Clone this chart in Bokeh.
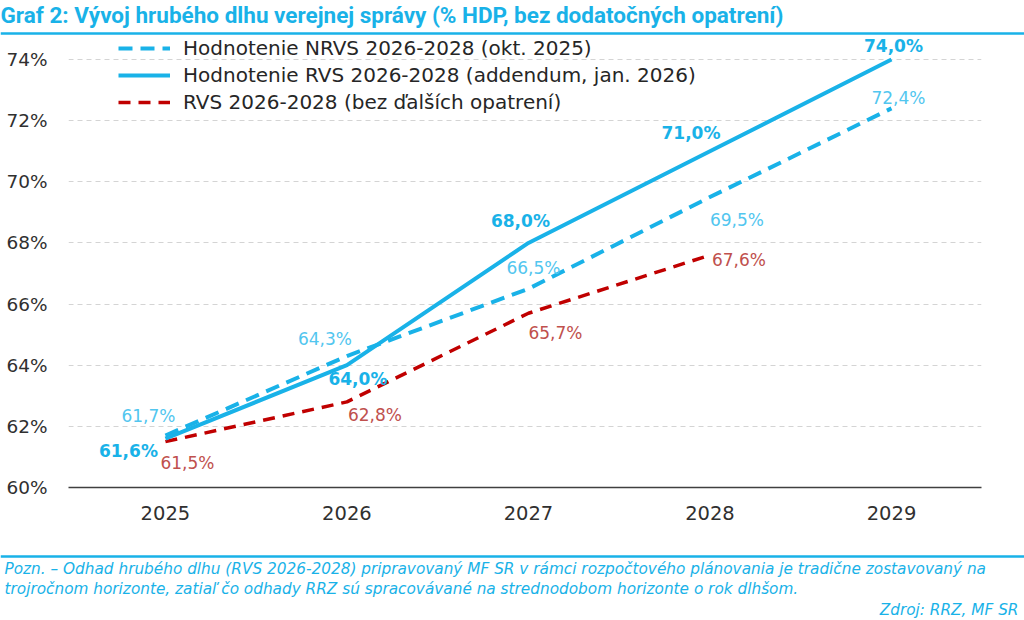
from bokeh.plotting import figure
from bokeh.layouts import column
from bokeh.models import (ColumnDataSource, Legend, LegendItem, FixedTicker, Range1d)
from bokeh.core.properties import value
from bokeh.embed import file_html
from bokeh.resources import INLINE

# ---------------- data ----------------
years = [2025, 2026, 2027, 2028, 2029]
nrvs_okt2025 = [61.7, 64.3, 66.5, 69.5, 72.4]
rvs_addendum = [61.6, 64.0, 68.0, 71.0, 74.0]
years_bez = [2025, 2026, 2027, 2028]
rvs_bez = [61.5, 62.8, 65.7, 67.6]

y_ticks = [60, 62, 64, 66, 68, 70, 72, 74]
y_tick_labels = ["60%", "62%", "64%", "66%", "68%", "70%", "72%", "74%"]
x_tick_labels = ["2025", "2026", "2027", "2028", "2029"]

series_names = [
    "Hodnotenie NRVS 2026-2028 (okt. 2025)",
    "Hodnotenie RVS 2026-2028 (addendum, jan. 2026)",
    "RVS 2026-2028 (bez ďalších opatrení)",
]
title_text = "Graf 2: Vývoj hrubého dlhu verejnej správy (% HDP, bez dodatočných opatrení)"
note_lines = [
    "Pozn. – Odhad hrubého dlhu (RVS 2026-2028) pripravovaný MF SR v rámci rozpočtového plánovania je tradične zostavovaný na",
    "trojročnom horizonte, zatiaľ čo odhady RRZ sú spracovávané na strednodobom horizonte o rok dlhšom.",
]
source_text = "Zdroj: RRZ, MF SR"

# ---------------- styles ----------------
CYAN = "#19b2e8"
CYAN_LIGHT = "#52c6ef"
RED = "#c00000"
RED_LABEL = "#c0504d"
TXT = "#303030"
FONT = "DejaVu Sans"

# label offsets (pixels, screen, +y = down)
off_nrvs = ([-17, -22, 5, 27, 7], [-20, -17, -21, 23, -10])
off_add = ([-37, 11, -8, -19, 2], [12, 14, -22, -18, -13])
off_bez = ([22, 28, 27, 29], [21, 13, 20, 5])


def fmt(v):
    return f"{v:.1f}".replace(".", ",") + "%"


W = 1024
H_HEAD, H_MAIN, H_FOOT = 35, 502, 83
ML, MR, MB = 68, 43, 50
frame_h = H_MAIN - MB


def blank(h):
    f = figure(width=W, height=h, output_backend="svg", toolbar_location=None,
               x_range=Range1d(0, W), y_range=Range1d(h, 0),
               x_axis_type=None, y_axis_type=None,
               min_border_left=0, min_border_right=0,
               min_border_top=0, min_border_bottom=0,
               background_fill_color="white", border_fill_color="white")
    f.outline_line_color = None
    f.xgrid.visible = False
    f.ygrid.visible = False
    f.frame_align = False
    return f


# ---------------- header ----------------
head = blank(H_HEAD)
head.text(x=[0], y=[14], text=[title_text], text_font=value("Roboto"),
          text_font_style="bold", text_font_size="22.5px", text_color=CYAN,
          text_baseline="middle", text_align="left")
head.line(x=[0, W], y=[33, 33], line_color=CYAN, line_width=2.5)

# ---------------- main chart ----------------
p = figure(width=W, height=H_MAIN, output_backend="svg", toolbar_location=None,
           min_border_left=ML, min_border_right=MR,
           min_border_top=0, min_border_bottom=MB,
           x_range=Range1d(2024.466, 2029.496), y_range=Range1d(60, 74.785),
           background_fill_color="white", border_fill_color="white")
p.outline_line_color = None
p.frame_align = False

p.xaxis.ticker = FixedTicker(ticks=years)
p.xaxis.major_label_overrides = {y: s for y, s in zip(years, x_tick_labels)}
p.xaxis.major_tick_line_color = None
p.xaxis.major_tick_out = 0
p.xaxis.major_tick_in = 0
p.xaxis.minor_tick_line_color = None
p.xaxis.axis_line_color = "#404040"
p.xaxis.axis_line_width = 1.6
p.xaxis.major_label_standoff = 18
p.xaxis.major_label_text_font = FONT
p.xaxis.major_label_text_font_size = "19.5px"
p.xaxis.major_label_text_color = TXT

p.yaxis.ticker = FixedTicker(ticks=y_ticks)
p.yaxis.major_label_overrides = {t: s for t, s in zip(y_ticks, y_tick_labels)}
p.yaxis.axis_line_color = None
p.yaxis.major_tick_line_color = None
p.yaxis.major_tick_out = 0
p.yaxis.major_tick_in = 0
p.yaxis.minor_tick_line_color = None
p.yaxis.major_label_standoff = 21
p.yaxis.major_label_text_font = FONT
p.yaxis.major_label_text_font_size = "18.5px"
p.yaxis.major_label_text_color = TXT

p.xgrid.grid_line_color = None
p.ygrid.ticker = FixedTicker(ticks=y_ticks[1:])
p.ygrid.grid_line_color = "#d4d4d4"
p.ygrid.grid_line_dash = "5 4"
p.ygrid.grid_line_width = 1.2

r_bez = p.line(years_bez, rvs_bez, line_color=RED, line_width=3.5, line_dash="12 8")
r_nrvs = p.line(years, nrvs_okt2025, line_color=CYAN, line_width=4, line_dash="14 8")
r_add = p.line(years, rvs_addendum, line_color=CYAN, line_width=4)


def add_labels(xs, ys, offs, color, bold=False):
    src = ColumnDataSource(dict(x=xs, y=ys, t=[fmt(v) for v in ys],
                                dx=offs[0], dy=offs[1]))
    p.text(x="x", y="y", text="t", x_offset="dx", y_offset="dy", source=src,
           text_font=value(FONT), text_font_size="17px",
           text_font_style="bold" if bold else "normal",
           text_color=color, text_align="center", text_baseline="middle")


add_labels(years, nrvs_okt2025, off_nrvs, CYAN_LIGHT)
add_labels(years, rvs_addendum, off_add, CYAN, bold=True)
add_labels(years_bez, rvs_bez, off_bez, RED_LABEL)

legend = Legend(items=[LegendItem(label=series_names[0], renderers=[r_nrvs]),
                       LegendItem(label=series_names[1], renderers=[r_add]),
                       LegendItem(label=series_names[2], renderers=[r_bez])],
                location=(50, frame_h - 80), orientation="vertical",
                padding=0, margin=0, spacing=1,
                label_height=26, glyph_height=26, glyph_width=52,
                label_standoff=13, label_text_font=FONT,
                label_text_font_size="20px", label_text_color="#262626",
                border_line_color=None, background_fill_alpha=0)
p.add_layout(legend, "center")

# ---------------- footer ----------------
foot = blank(H_FOOT)
foot.line(x=[0, W], y=[19, 19], line_color=CYAN, line_width=2.5)
foot.text(x=[4, 4], y=[31, 51], text=note_lines, text_font=value(FONT),
          text_font_style="italic", text_font_size="15.3px", text_color=CYAN,
          text_baseline="middle", text_align="left")
foot.text(x=[W - 6], y=[72], text=[source_text], text_font=value(FONT),
          text_font_style="italic", text_font_size="15.3px", text_color=CYAN,
          text_baseline="middle", text_align="right")

layout = column(head, p, foot, spacing=0)
open("out.html", "w").write(file_html(layout, INLINE))
